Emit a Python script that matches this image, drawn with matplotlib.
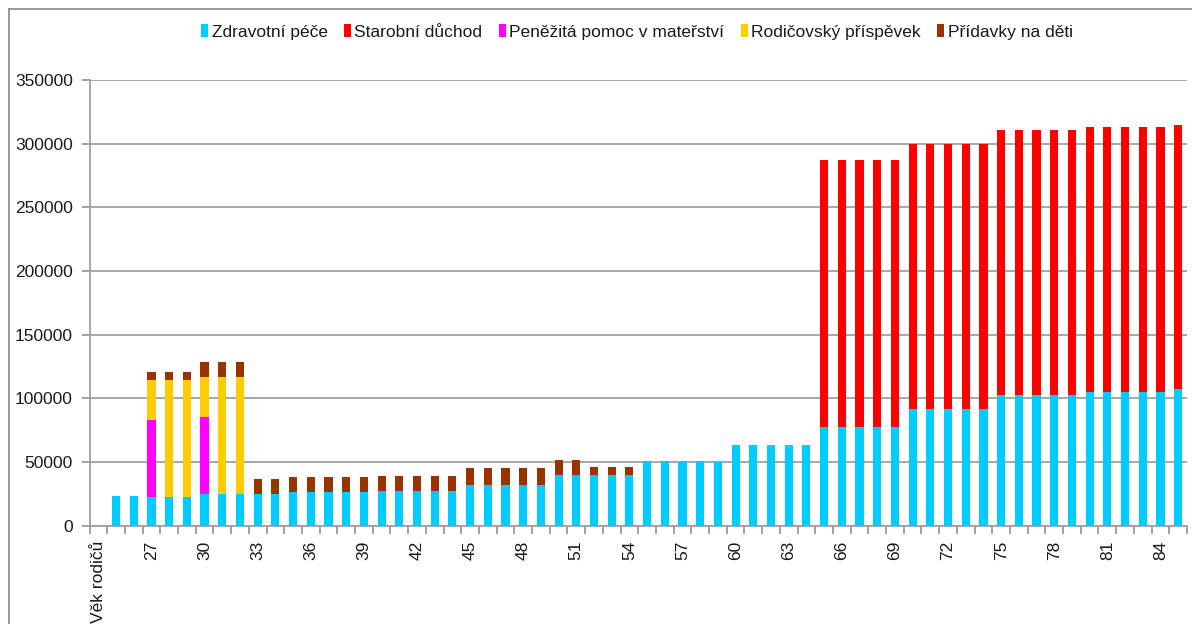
import matplotlib
matplotlib.use("Agg")
import matplotlib.pyplot as plt
import numpy as np
from matplotlib.patches import Patch
from matplotlib.lines import Line2D

plt.rcParams['font.family'] = ['Liberation Sans', 'DejaVu Sans']

# kategorie: první položka je popisek osy, pak věk 25..85
ages = list(range(25, 86))
categories = ["Věk rodičů"] + [str(a) for a in ages]

zdravotni = [0,
             23000, 23000, 22300, 22300, 22300, 24800, 24800, 24800, 24800, 24800,
             26300, 26300, 26300, 26300, 26300, 27000, 27000, 27000, 27000, 27000,
             31700, 31700, 31700, 31700, 31700, 39500, 39500, 39500, 39500, 39500,
             50500, 50500, 50500, 50500, 50500, 63100, 63100, 63100, 63100, 63100,
             77300, 77300, 77300, 77300, 77300, 91400, 91400, 91400, 91400, 91400,
             102400, 102400, 102400, 102400, 102400, 104800, 104800, 104800, 104800, 104800,
             107100]
starobni = [0] * 41 + [209700] * 5 + [208300] * 5 + [208000] * 5 + [207900] * 5 + [207900]
materstvi = [0, 0, 0, 60500, 0, 0, 60500] + [0] * 55
rodicovsky = [0, 0, 0, 31400, 92000, 92000, 31500, 92000, 92000] + [0] * 53
pridavky = ([0, 0, 0, 6300, 6300, 6300, 11800, 11800, 11800, 11800, 11800,
             11700, 11700, 11700, 11700, 11700, 11700, 11700, 11700, 11700, 11700,
             13300, 13300, 13300, 13300, 13300, 11800, 11800, 6300, 6300, 6300]
            + [0] * 31)

series = [
    ("Zdravotní péče", zdravotni, "#00CCFF"),
    ("Starobní důchod", starobni, "#FF0000"),
    ("Peněžitá pomoc v mateřství", materstvi, "#FF00FF"),
    ("Rodičovský příspěvek", rodicovsky, "#FFCC00"),
    ("Přídavky na děti", pridavky, "#993300"),
]

W, H = 1192, 624
fig = plt.figure(figsize=(W / 100, H / 100), dpi=100)
ax = fig.add_axes([89.5 / W, (H - 525.5) / H, (1187 - 89.5) / W, (525.5 - 80) / H])

x = np.arange(len(categories))
bottom = np.zeros(len(categories))
for name, vals, col in series:
    vals = np.array(vals, dtype=float)
    ax.bar(x, vals, 0.46, bottom=bottom, color=col, label=name, zorder=3)
    bottom += vals

ax.set_xlim(-0.5, len(categories) - 0.5)
ax.set_ylim(0, 350000)
ax.set_yticks(np.arange(0, 350001, 50000))
ax.set_yticklabels([str(v) for v in range(0, 350001, 50000)], fontsize=12.5, color="#1a1a1a")
ax.yaxis.grid(True, color="#A0A0A0", linewidth=1.3, zorder=0)

lab_idx = list(range(0, len(categories), 3))
ax.set_xticks(lab_idx)
ax.set_xticklabels([categories[i] for i in lab_idx], rotation=90, fontsize=12.5,
                   va="top", color="#1a1a1a")
ax.set_xticks(np.arange(-0.5, len(categories), 1), minor=True)
ax.tick_params(axis="x", which="major", length=0, pad=11)
ax.tick_params(axis="x", which="minor", length=6, color="#909090", width=1.2)
ax.tick_params(axis="y", length=6, color="#909090", width=1.2, pad=6)

for s in ["top", "right"]:
    ax.spines[s].set_visible(False)
for s in ["left", "bottom"]:
    ax.spines[s].set_color("#A0A0A0")
    ax.spines[s].set_linewidth(1.3)

handles = [Patch(facecolor=c, edgecolor="none") for _, _, c in series]
fig.legend(handles, [n for n, _, _ in series], loc="center", ncol=5,
           bbox_to_anchor=(637 / W, 1 - 32 / H), frameon=False, fontsize=12.5,
           handlelength=0.4, handleheight=0.75, handletextpad=0.2, columnspacing=0.95,
           labelcolor="#1a1a1a")

# rámeček grafu
fig.add_artist(Line2D([9 / W, 9 / W], [0, 1 - 9 / H], transform=fig.transFigure,
                      color="#868686", linewidth=1.2))
fig.add_artist(Line2D([9 / W, 1], [1 - 9 / H, 1 - 9 / H], transform=fig.transFigure,
                      color="#868686", linewidth=1.2))

fig.savefig("out.png", dpi=100)
